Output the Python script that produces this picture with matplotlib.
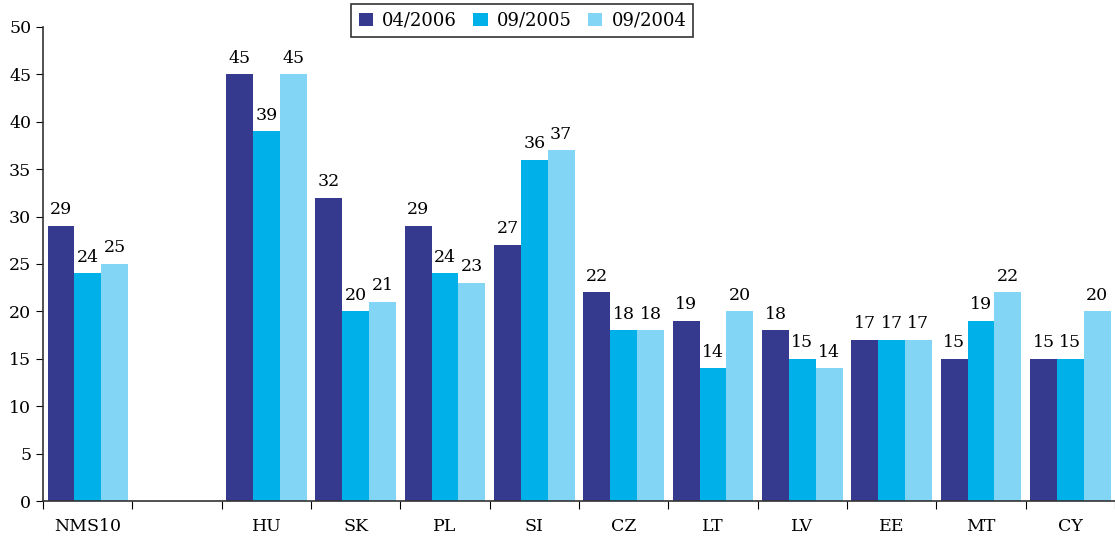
import numpy as np
import matplotlib.pyplot as plt

plt.rcParams['font.family'] = ['DejaVu Serif']

categories = ['NMS10', '', 'HU', 'SK', 'PL', 'SI', 'CZ', 'LT', 'LV', 'EE', 'MT', 'CY']
s2006 = [29, np.nan, 45, 32, 29, 27, 22, 19, 18, 17, 15, 15]
s2005 = [24, np.nan, 39, 20, 24, 36, 18, 14, 15, 17, 19, 15]
s2004 = [25, np.nan, 45, 21, 23, 37, 18, 20, 14, 17, 22, 20]
series_names = ['04/2006', '09/2005', '09/2004']
colors = ['#363a8e', '#00b0e8', '#82d5f4']

fig = plt.figure(figsize=(11.15, 5.45), dpi=100)
ax = fig.add_axes([0.0386, 0.0807, 0.9614, 0.8698])

x = np.arange(len(categories))
w = 0.3
for i, (vals, name, c) in enumerate(zip([s2006, s2005, s2004], series_names, colors)):
    pos = x + (i - 1) * w
    ax.bar(pos, vals, width=w, color=c, label=name)
    for p, v in zip(pos, vals):
        if not np.isnan(v):
            ax.text(p, v + 0.8, f'{v:g}', ha='center', va='bottom', fontsize=12.5)

ax.set_xlim(-0.5, len(categories) - 0.5)
ax.set_ylim(0, 50)
ax.set_yticks(range(0, 51, 5))
ax.tick_params(axis='y', labelsize=12.5, length=5, direction='out')

ax.set_xticks(np.arange(-0.5, len(categories)), minor=False)
ax.set_xticklabels([])
ax.set_xticks(x, minor=True)
ax.set_xticklabels(categories, minor=True, fontsize=12.5)
ax.tick_params(axis='x', which='major', length=6, direction='out')
ax.tick_params(axis='x', which='minor', length=0, pad=12)

ax.spines['top'].set_visible(False)
ax.spines['right'].set_visible(False)
for s in ['left', 'bottom']:
    ax.spines[s].set_color('#333333')
    ax.spines[s].set_linewidth(1.2)

leg = fig.legend(loc='center', bbox_to_anchor=(0.4686, 0.962), ncol=3, fontsize=13,
                 frameon=True, fancybox=False, edgecolor='black', handlelength=0.8,
                 handleheight=0.8, columnspacing=0.9, handletextpad=0.5,
                 borderpad=0.4)
leg.get_frame().set_linewidth(1.2)

fig.savefig('out.png', dpi=100)
